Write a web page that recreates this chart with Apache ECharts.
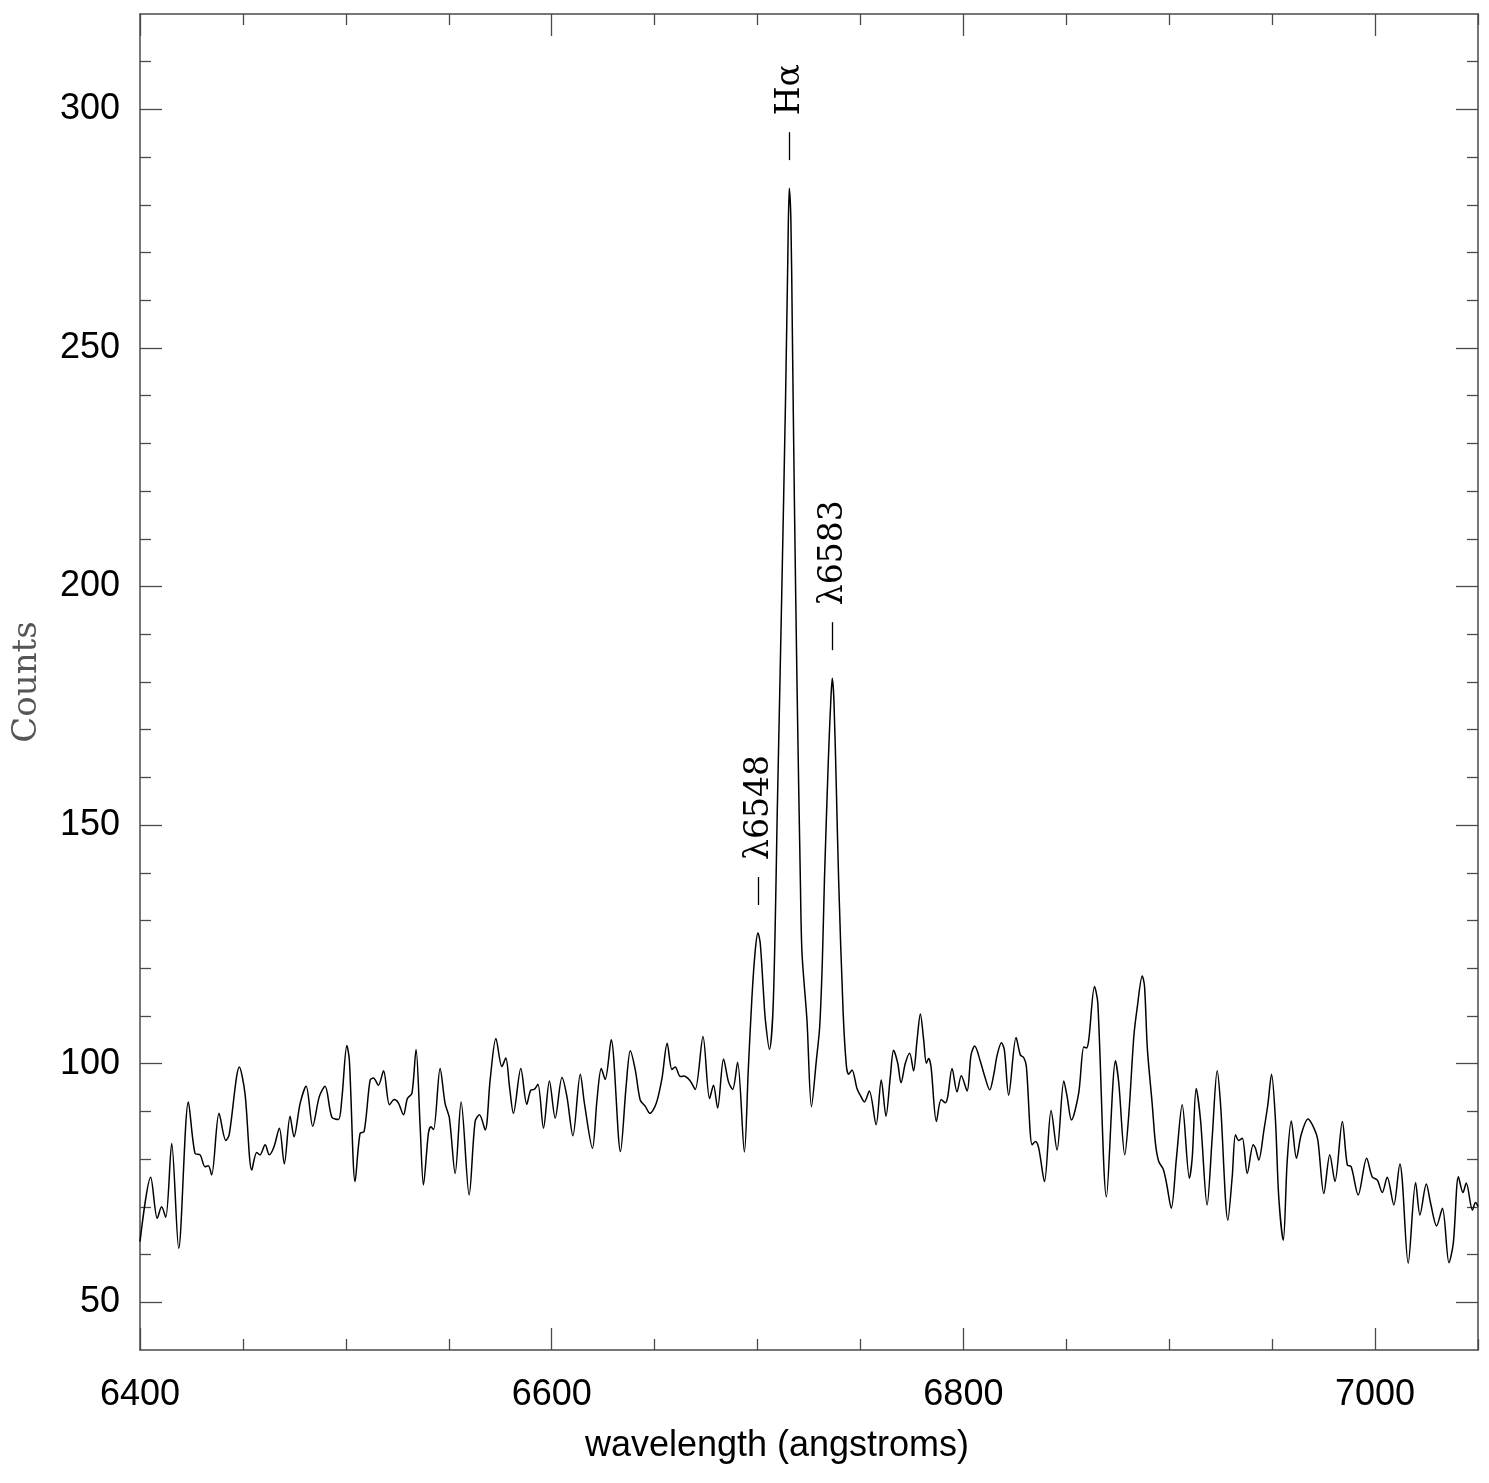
<!DOCTYPE html>
<html>
<head>
<meta charset="utf-8">
<script src="https://cdn.jsdelivr.net/npm/echarts@6/dist/echarts.min.js"></script>
<style>
html,body{margin:0;padding:0;background:#fff;}
#chart{width:1489px;height:1483px;}
</style>
</head>
<body>
<div id="chart"></div>
<script>
const wavelength = [6400.0, 6405.2, 6408.4, 6410.5, 6412.5, 6415.4, 6418.8, 6423.5, 6426.7, 6429.2,
6431.6, 6433.2, 6434.8, 6438.4, 6441.7, 6443.3, 6448.3, 6451.0, 6454.3, 6456.7,
6458.3, 6460.8, 6462.8, 6465.1, 6467.7, 6470.1, 6472.9, 6474.8, 6477.8, 6480.7,
6483.9, 6487.1, 6489.9, 6493.2, 6496.4, 6498.0, 6500.5, 6501.7, 6504.5, 6506.9,
6508.9, 6511.8, 6513.4, 6515.8, 6518.3, 6521.2, 6523.5, 6525.5, 6528.0, 6529.9,
6532.1, 6534.1, 6536.1, 6537.7, 6540.1, 6541.3, 6542.6, 6545.8, 6548.2, 6550.3,
6553.1, 6556.0, 6559.9, 6562.8, 6564.9, 6567.7, 6570.1, 6572.9, 6575.8, 6577.7,
6579.5, 6581.4, 6585.0, 6587.9, 6589.9, 6591.5, 6593.3, 6596.0, 6598.9, 6601.7,
6605.0, 6607.4, 6610.3, 6613.9, 6615.9, 6619.8, 6622.0, 6624.1, 6626.0, 6628.9,
6633.4, 6636.2, 6638.2, 6640.6, 6643.0, 6645.4, 6647.7, 6650.8, 6653.6, 6656.1,
6658.4, 6660.0, 6662.5, 6664.1, 6667.3, 6669.7, 6673.5, 6676.7, 6678.6, 6680.6,
6683.5, 6685.9, 6687.9, 6690.3, 6693.6, 6695.5, 6697.3, 6698.9, 6700.2, 6701.3,
6702.8, 6703.8, 6705.8, 6707.7, 6709.7, 6711.7, 6713.6, 6714.7, 6715.4, 6716.2,
6716.9, 6717.9, 6719.3, 6720.8, 6721.6, 6724.0, 6726.2, 6728.6, 6730.2, 6731.5,
6732.5, 6734.4, 6735.6, 6736.3, 6737.1, 6738.3, 6739.4, 6741.6, 6743.2, 6744.3,
6745.9, 6748.3, 6749.9, 6751.9, 6754.3, 6757.6, 6760.1, 6762.4, 6764.5, 6766.1,
6768.1, 6769.7, 6771.8, 6773.9, 6775.8, 6777.5, 6779.1, 6780.7, 6782.0, 6783.1,
6784.3, 6786.9, 6789.2, 6791.3, 6792.4, 6794.5, 6796.9, 6799.0, 6801.8, 6803.7,
6805.5, 6808.3, 6810.4, 6812.8, 6814.7, 6816.4, 6818.5, 6819.9, 6822.0, 6825.6,
6827.7, 6829.3, 6830.6, 6833.4, 6835.0, 6836.6, 6839.4, 6842.6, 6845.5, 6848.8,
6850.4, 6852.5, 6856.0, 6858.5, 6859.8, 6860.9, 6863.7, 6865.3, 6869.5, 6873.9,
6875.5, 6878.4, 6880.4, 6882.8, 6884.4, 6886.9, 6888.0, 6889.4, 6891.7, 6893.3,
6894.9, 6897.1, 6898.7, 6901.0, 6903.5, 6906.3, 6909.8, 6911.2, 6913.1, 6915.2,
6918.4, 6920.9, 6923.3, 6924.9, 6928.5, 6930.6, 6932.2, 6933.8, 6935.5, 6937.9,
6940.8, 6941.9, 6943.5, 6946.0, 6947.9, 6949.7, 6951.6, 6953.2, 6955.4, 6957.3,
6959.3, 6961.8, 6964.1, 6967.4, 6970.3, 6972.2, 6975.1, 6978.0, 6980.5, 6984.1,
6986.5, 6988.4, 6991.8, 6995.9, 6998.6, 7001.1, 7003.5, 7005.9, 7009.1, 7012.1,
7013.2, 7016.1, 7019.7, 7021.8, 7024.9, 7027.0, 7029.9, 7032.7, 7035.9, 7038.0,
7040.5, 7042.7, 7044.3, 7047.3, 7048.8, 7050.0];

const counts = [62.7, 76.2, 67.6, 70.0, 67.8, 83.3, 61.3, 92.0, 81.2, 80.9,
78.4, 78.6, 76.7, 89.6, 83.9, 85.1, 99.3, 93.8, 77.7, 81.4,
80.9, 83.0, 80.9, 82.6, 86.5, 79.0, 89.0, 84.7, 91.7, 95.3,
86.9, 93.1, 95.3, 88.8, 88.3, 92.4, 103.8, 100.8, 75.3, 85.4,
85.8, 96.6, 97.0, 95.5, 98.5, 91.4, 92.5, 91.8, 89.3, 92.7,
93.8, 103.0, 86.8, 74.6, 85.4, 86.8, 86.2, 99.0, 91.7, 88.6,
77.0, 92.0, 72.5, 87.9, 89.3, 86.1, 96.6, 105.3, 99.4, 101.2,
95.2, 89.6, 99.0, 91.5, 94.5, 94.6, 95.7, 86.5, 96.4, 88.6,
97.1, 93.1, 84.9, 97.8, 91.7, 82.3, 92.4, 99.0, 96.7, 105.0,
81.6, 95.5, 102.7, 98.7, 92.4, 91.1, 89.6, 91.7, 97.0, 104.3,
98.8, 99.3, 97.3, 97.4, 96.4, 94.6, 105.7, 92.7, 95.5, 90.7,
101.0, 96.2, 94.6, 100.3, 81.5, 98.7, 114.1, 123.8, 127.4, 125.3,
115.5, 109.2, 103.0, 113.4, 155.3, 197.2, 239.2, 268.5, 283.5, 276.8,
253.8, 218.1, 176.2, 138.5, 123.2, 109.2, 91.0, 100.8, 107.8, 121.7,
138.5, 163.7, 176.2, 180.8, 176.2, 157.4, 138.5, 110.6, 99.4, 97.8,
98.7, 94.8, 93.4, 92.0, 94.3, 87.2, 96.6, 89.0, 97.3, 102.8,
100.1, 96.0, 100.1, 102.2, 98.5, 105.0, 110.4, 105.0, 100.1, 101.1,
99.3, 87.9, 92.5, 91.8, 93.1, 99.0, 94.1, 97.5, 94.3, 101.8,
103.7, 100.4, 97.3, 94.5, 97.6, 101.8, 104.4, 102.9, 93.4, 105.5,
101.8, 101.3, 99.4, 83.0, 83.7, 82.3, 75.3, 90.2, 81.9, 96.4,
93.1, 88.2, 93.8, 103.5, 103.3, 105.0, 116.2, 112.7, 72.1, 100.6,
95.9, 80.9, 89.6, 105.7, 111.6, 118.4, 116.2, 103.0, 91.7, 83.3,
79.5, 77.9, 74.9, 69.7, 80.2, 91.4, 76.0, 80.5, 94.8, 88.2,
70.4, 84.7, 98.5, 91.7, 67.2, 76.3, 85.1, 83.9, 84.4, 77.0,
83.0, 82.3, 79.8, 86.1, 91.4, 97.8, 88.2, 72.1, 63.0, 79.5,
88.0, 80.2, 85.1, 88.4, 86.5, 84.0, 72.8, 80.9, 75.3, 87.9,
78.8, 78.4, 72.5, 80.2, 76.3, 75.6, 73.0, 76.2, 70.4, 79.0,
75.6, 58.2, 75.1, 68.3, 74.8, 70.7, 66.0, 69.7, 58.3, 62.4,
76.3, 73.0, 75.0, 69.3, 70.9, 70.1];

const xMajorTicks = [6400, 6600, 6800, 7000];
const xMinorTicks = [6450, 6500, 6550, 6650, 6700, 6750, 6850, 6900, 6950, 7050];
const yMajorTicks = [50, 100, 150, 200, 250, 300];
const yMinorTicks = [60, 70, 80, 90, 110, 120, 130, 140, 160, 170, 180, 190, 210, 220, 230, 240, 260, 270, 280, 290, 310];

const lineLabels = ['H\u03b1', '\u03bb6583', '\u03bb6548'];
const lineWavelengths = [6715.4, 6736.3, 6700.2];
const linePeaks = [283.5, 180.8, 127.4];

if (wavelength.length !== counts.length) throw new Error('length mismatch ' + wavelength.length + ' ' + counts.length);

const data = wavelength.map((w, i) => [w, counts[i]]);

const frameColor = '#4a4a4a';
const tickFont = 'Liberation Sans';
const XMIN = 6400, XMAX = 7050, YMIN = 40, YMAX = 320;

function xAx(pos, ticks, len, showLine, labels) {
  return {
    type: 'value', position: pos, min: XMIN, max: XMAX, gridIndex: 0,
    axisLine: { show: showLine, onZero: false, lineStyle: { color: frameColor, width: 1.5 } },
    axisTick: { show: true, inside: true, length: len, customValues: ticks, lineStyle: { color: frameColor, width: 1.3 } },
    axisLabel: labels ? { show: true, customValues: labels, formatter: v => String(v), color: '#000', fontSize: 36, fontFamily: tickFont, margin: 27 } : { show: false },
    splitLine: { show: false }, minorTick: { show: false }
  };
}
function yAx(pos, ticks, len, showLine, labels) {
  return {
    type: 'value', position: pos, min: YMIN, max: YMAX, gridIndex: 0,
    axisLine: { show: showLine, onZero: false, lineStyle: { color: frameColor, width: 1.5 } },
    axisTick: { show: true, inside: true, length: len, customValues: ticks, lineStyle: { color: frameColor, width: 1.3 } },
    axisLabel: labels ? { show: true, customValues: labels, formatter: v => String(v), color: '#000', fontSize: 36, fontFamily: tickFont, margin: 20 } : { show: false },
    splitLine: { show: false }, minorTick: { show: false }
  };
}

const xAxes = [
  xAx('bottom', xMajorTicks, 22, true, xMajorTicks),
  xAx('bottom', xMinorTicks, 11, false, null),
  xAx('top', xMajorTicks, 22, true, null),
  xAx('top', xMinorTicks, 11, false, null)
];
Object.assign(xAxes[0], {
  name: 'wavelength (angstroms)', nameLocation: 'middle', nameGap: 78,
  nameTextStyle: { color: '#000', fontSize: 36, fontFamily: tickFont, padding: [0, 64, 0, 0] }
});
const yAxes = [
  yAx('left', yMajorTicks, 22, true, yMajorTicks),
  yAx('left', yMinorTicks, 11, false, null),
  yAx('right', yMajorTicks, 22, true, null),
  yAx('right', yMinorTicks, 11, false, null)
];
Object.assign(yAxes[0], {
  name: 'Counts', nameLocation: 'middle', nameGap: 96, nameRotate: 90,
  nameTextStyle: { color: '#555', fontSize: 34, fontFamily: 'DejaVu Serif' }
});

const chart = echarts.init(document.getElementById('chart'), null, { renderer: 'canvas' });
chart.setOption({
  animation: false,
  backgroundColor: '#fff',
  grid: { left: 140, right: 11, top: 14, bottom: 133, containLabel: false },
  xAxis: xAxes,
  yAxis: yAxes,
  series: [{
    type: 'line', xAxisIndex: 0, yAxisIndex: 0, data: data,
    showSymbol: false, symbol: 'none', smooth: 0.3,
    lineStyle: { color: '#000', width: 1.5 }
  }]
});

const gfx = [];
lineLabels.forEach((lab, i) => {
  const p = chart.convertToPixel({ xAxisIndex: 0, yAxisIndex: 0 }, [lineWavelengths[i], linePeaks[i]]);
  const px = Math.round(p[0]) + 0.5;
  gfx.push({ type: 'line', shape: { x1: px, y1: p[1] - 28, x2: px, y2: p[1] - 56 }, style: { stroke: '#000', lineWidth: 1.3 } });
  gfx.push({ type: 'text', x: px + 1, y: p[1] - 73, rotation: Math.PI / 2,
    style: { text: lab, fill: '#000', fontSize: 33, fontFamily: 'DejaVu Serif', align: 'left', verticalAlign: 'middle' } });
});
chart.setOption({ graphic: gfx });
</script>
</body>
</html>
